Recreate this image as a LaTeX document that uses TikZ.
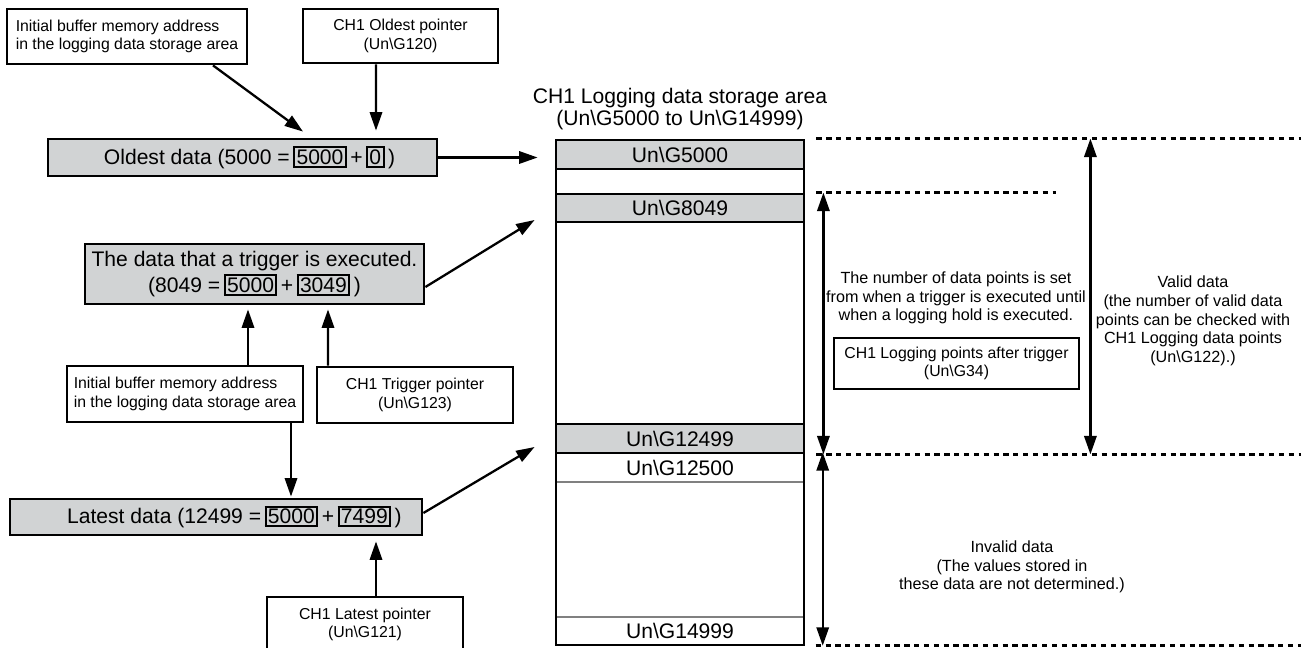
\documentclass[tikz,border=0pt]{standalone}
\usepackage{fontspec}
\setmainfont{Liberation Sans}
\usetikzlibrary{arrows.meta}
\definecolor{memgray}{HTML}{D1D3D4}
\newcommand{\numbox}[1]{{\setlength{\fboxsep}{0.8pt}\setlength{\fboxrule}{1.1pt}\fbox{#1}}}
\newcommand{\ug}[1]{Un\textbackslash G#1}
\tikzset{every path/.style={line width=1.3pt},
  wh/.style 2 args={minimum width=#1*0.02cm, minimum height=#2*0.02cm},
  note/.style={draw, line width=1.6pt, fill=white, inner sep=0pt, align=center, font=\fontsize{9}{10.5}\selectfont},
  datum/.style={draw, line width=1.6pt, fill=memgray, inner sep=0pt, align=center, font=\fontsize{12}{14.5}\selectfont},
  cell/.style={draw, line width=1.6pt, inner sep=0pt, font=\fontsize{12}{14}\selectfont},
  txt/.style={inner sep=0pt, align=center, font=\fontsize{9.2}{10.7}\selectfont},
  ptr/.style={-{Triangle[length=10.5pt,width=7pt]}},
  span/.style={{Triangle[length=10.5pt,width=7pt]}-{Triangle[length=10.5pt,width=7pt]}},
  guide/.style={line width=1.5pt, dash pattern=on 3pt off 2.6pt}}

\begin{document}
\begin{tikzpicture}[x=0.02cm, y=-0.02cm]
   \useasboundingbox (0,0) rectangle (1302,648);
   \node[note, wh={240}{55}, align=left] (initA) at (127,36.5) {Initial buffer memory address\\in the logging data storage area};
   \node[note, wh={195}{54}] (oldP) at (400.5,36) {CH1 Oldest pointer\\(\ug{120})};
   \node[datum, wh={389}{37}] (oldD) at (242.5,157.5) {\hspace*{8pt}Oldest data (5000 =\,\numbox{5000}\,+\,\numbox{0}\,)};
   \node[datum, wh={339}{60}] (trgD) at (254.5,274) {The data that a trigger is executed.\\(8049 =\,\numbox{5000}\,+\,\numbox{3049}\,)};
   \node[note, wh={236}{56}, align=left] (initB) at (185,394) {Initial buffer memory address\\in the logging data storage area};
   \node[note, wh={196}{56}] (trgP) at (415,395) {CH1 Trigger pointer\\(\ug{123})};
   \node[datum, wh={412}{36}] (latD) at (216,517) {\hspace*{21pt}Latest data (12499 =\,\numbox{5000}\,+\,\numbox{7499}\,)};
   \node[note, wh={196}{55}] (latP) at (365,624.5) {CH1 Latest pointer\\(\ug{121})};

   \node[align=center, inner sep=0pt, font=\fontsize{12}{13}\selectfont] (title) at (680,109) {CH1 Logging data storage area\\(\ug{5000} to \ug{14999})};
   \node[cell, draw=gray, line width=0.8pt, wh={248}{29}] (g12500) at (680,467.5) {\ug{12500}};
   \node[cell, draw=gray, line width=0.8pt, wh={248}{28}] (g14999) at (680,631) {\ug{14999}};
   \draw[line width=1.6pt] (556,140) rectangle (804,645);
   \node[cell, fill=memgray, wh={248}{29}] (g5000) at (680,154.5) {\ug{5000}};
   \node[cell, fill=memgray, wh={248}{28}] (g8049) at (680,208) {\ug{8049}};
   \node[cell, fill=memgray, wh={248}{29}] (g12499) at (680,438.5) {\ug{12499}};

   \node[txt] (trgN) at (956,298) {The number of data points is set\\from when a trigger is executed until\\when a logging hold is executed.};
   \node[note, wh={245}{51}] (trgC) at (956.5,363.5) {CH1 Logging points after trigger\\(\ug{34})};
   \node[txt] (valN) at (1193,321) {Valid data\\(the number of valid data\\points can be checked with\\CH1 Logging data points\\(\ug{122}).)};
   \node[txt] (invN) at (1012,567) {Invalid data\\(The values stored in\\these data are not determined.)};

   \draw[ptr] ([shift={(86,0)}]initA.south) -- ([shift={(60.5,-6)}]oldD.north);
   \draw[ptr] ([shift={(-24.5,0)}]oldP.south) -- ([shift={(133.5,-7)}]oldD.north);
   \draw[ptr] (oldD.east) -- ([shift={(-17,3)}]g5000.west);
   \draw[ptr] ([shift={(0,13)}]trgD.east) -- ([shift={(-20,12)}]g8049.west);
   \draw[ptr] ([shift={(63,0)}]initB.north) -- ([shift={(-6.5,4)}]trgD.south);
   \draw[ptr] ([shift={(-87,0)}]trgP.north) -- ([shift={(73.5,4)}]trgD.south);
   \draw[ptr] ([shift={(106,0)}]initB.south) -- ([shift={(75,-1)}]latD.north);
   \draw[ptr] ([shift={(0,-4)}]latD.east) -- ([shift={(-20,8.5)}]g12499.west);
   \draw[ptr] ([shift={(11,0)}]latP.north) -- ([shift={(160,5)}]latD.south);

   \draw[span] ([shift={(18,0)}]g8049.north east) -- ([shift={(18,0)}]g12499.south east);
   \draw[span] ([shift={(18,0)}]g12500.north east) -- ([shift={(18,0)}]g14999.south east);
   \draw[span] ([shift={(285,0)}]g5000.north east) -- ([shift={(285,0)}]g12499.south east);

   \draw[guide] ([shift={(11,0)}]g5000.north east) -- ([shift={(496,0)}]g5000.north east);
   \draw[guide] ([shift={(11,0)}]g8049.north east) -- ([shift={(251,0)}]g8049.north east);
   \draw[guide] ([shift={(11,0)}]g12499.south east) -- ([shift={(496,0)}]g12499.south east);
   \draw[guide] ([shift={(11,0)}]g14999.south east) -- ([shift={(496,0)}]g14999.south east);
\end{tikzpicture}
\end{document}
